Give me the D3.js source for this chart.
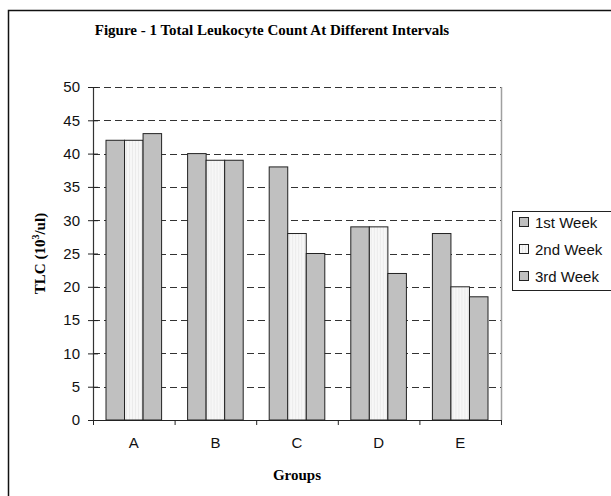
<!DOCTYPE html>
<html>
<head>
<meta charset="utf-8">
<script src="https://cdn.jsdelivr.net/npm/d3@7.9.0/dist/d3.min.js"></script>
<style>
  body { margin: 0; background: #fff; }
  svg { display: block; }
</style>
</head>
<body>
<script>
// ─── DATA ────────────────────────────────────────────
const groups = ['A', 'B', 'C', 'D', 'E'];
const seriesNames = ['1st Week', '2nd Week', '3rd Week'];
const week1 = [42, 40, 38, 29, 28];
const week2 = [42, 39, 28, 29, 20];
const week3 = [43, 39, 25, 22, 18.5];
const yTicks = [0, 5, 10, 15, 20, 25, 30, 35, 40, 45, 50];

const seriesValues = [week1, week2, week3];
const rows = groups.map((g, i) => ({
  group: g,
  values: seriesNames.map((s, j) => ({ key: s, value: seriesValues[j][i] }))
}));

// ─── SETUP ───────────────────────────────────────────
const W = 611, H = 496;
const plot = { left: 93, right: 501, top: 87, bottom: 420 };
const SANS = '"Liberation Sans", Arial, sans-serif';
const SERIF = '"Liberation Serif", "Times New Roman", serif';

const svg = d3.select('body').append('svg')
  .attr('width', W).attr('height', H);

// faint vertical stripes for the 2nd week bars
const defs = svg.append('defs');
const pat = defs.append('pattern')
  .attr('id', 'stripes')
  .attr('patternUnits', 'userSpaceOnUse')
  .attr('width', 3).attr('height', 4);
pat.append('rect').attr('width', 3).attr('height', 4).attr('fill', '#f7f7f7');
pat.append('rect').attr('width', 1).attr('height', 4).attr('fill', '#ebebeb');

const fills = ['#c0c0c0', 'url(#stripes)', '#c0c0c0'];

// outer frame (runs off the right and bottom edges)
svg.append('rect')
  .attr('x', 8.5).attr('y', 10.5)
  .attr('width', 700).attr('height', 600)
  .attr('fill', 'none')
  .attr('stroke', '#111')
  .attr('stroke-width', 1.5);

// title
svg.append('text')
  .attr('x', 272).attr('y', 35)
  .attr('text-anchor', 'middle')
  .style('font-family', SERIF)
  .style('font-weight', 'bold')
  .style('font-size', '15px')
  .text('Figure - 1 Total Leukocyte Count At Different Intervals');

// ─── SCALES ──────────────────────────────────────────
const x0 = d3.scaleBand()
  .domain(groups)
  .range([plot.left, plot.right])
  .paddingInner(0).paddingOuter(0);

const x1 = d3.scaleBand()
  .domain(seriesNames)
  .range([13, x0.bandwidth() - 13]);

const y = d3.scaleLinear()
  .domain([0, 50])
  .range([plot.bottom, plot.top]);

// ─── GRID ────────────────────────────────────────────
svg.append('g')
  .selectAll('line')
  .data(yTicks.filter(t => t > 0))
  .join('line')
    .attr('x1', plot.left).attr('x2', plot.right)
    .attr('y1', d => Math.round(y(d)) + 0.5)
    .attr('y2', d => Math.round(y(d)) + 0.5)
    .attr('stroke', '#333')
    .attr('stroke-dasharray', '7,4');

// right border of plot area
svg.append('line')
  .attr('x1', plot.right + 0.5).attr('x2', plot.right + 0.5)
  .attr('y1', plot.top).attr('y2', plot.bottom)
  .attr('stroke', '#a0a0a0')
  .attr('stroke-width', 1.5);

// ─── BARS ────────────────────────────────────────────
svg.append('g')
  .selectAll('g')
  .data(rows)
  .join('g')
    .attr('transform', d => `translate(${x0(d.group)},0)`)
  .selectAll('rect')
  .data(d => d.values)
  .join('rect')
    .attr('x', d => x1(d.key))
    .attr('y', d => y(d.value))
    .attr('width', x1.bandwidth())
    .attr('height', d => y(0) - y(d.value))
    .attr('fill', (d, i) => fills[i])
    .attr('stroke', '#222')
    .attr('stroke-width', 1);

// ─── AXES ────────────────────────────────────────────
const yAxis = svg.append('g')
  .attr('transform', `translate(${plot.left},0)`)
  .call(d3.axisLeft(y).tickValues(yTicks).tickSize(0).tickPadding(13));
yAxis.select('.domain').attr('stroke', '#333').attr('stroke-width', 1.2);
yAxis.selectAll('.tick text')
  .style('font-family', SANS)
  .style('font-size', '15px')
  .attr('fill', '#111');
yAxis.selectAll('.tick')
  .append('line')
    .attr('x1', -5).attr('x2', 5)
    .attr('stroke', '#222');

const xAxis = svg.append('g')
  .attr('transform', `translate(0,${plot.bottom})`)
  .call(d3.axisBottom(x0).tickSize(0).tickPadding(17));
xAxis.select('.domain').attr('stroke', '#222').attr('stroke-width', 1.2);
xAxis.selectAll('.tick text')
  .style('font-family', SANS)
  .style('font-size', '15px')
  .attr('fill', '#111');

// group boundary ticks
svg.append('g')
  .selectAll('line')
  .data(groups.map(g => x0(g)).concat([plot.right]))
  .join('line')
    .attr('x1', d => d + 0.5).attr('x2', d => d + 0.5)
    .attr('y1', plot.bottom).attr('y2', plot.bottom + 5)
    .attr('stroke', '#222');

// axis titles
svg.append('text')
  .attr('transform', `translate(45,${(plot.top + plot.bottom) / 2}) rotate(-90)`)
  .attr('text-anchor', 'middle')
  .style('font-family', SERIF)
  .style('font-weight', 'bold')
  .style('font-size', '15px')
  .call(t => {
    t.append('tspan').text('TLC (10');
    t.append('tspan').attr('dy', -6).style('font-size', '10px').text('3');
    t.append('tspan').attr('dy', 6).text('/ul)');
  });

svg.append('text')
  .attr('x', 297).attr('y', 480)
  .attr('text-anchor', 'middle')
  .style('font-family', SERIF)
  .style('font-weight', 'bold')
  .style('font-size', '15px')
  .text('Groups');

// ─── LEGEND ──────────────────────────────────────────
const legend = svg.append('g')
  .attr('transform', 'translate(512,211)');

legend.append('rect')
  .attr('x', 0.5).attr('y', 0.5)
  .attr('width', 120).attr('height', 79)
  .attr('fill', '#fff')
  .attr('stroke', '#222');

seriesNames.forEach((s, i) => {
  const row = legend.append('g').attr('transform', `translate(7,${11 + i * 27})`);
  row.append('rect')
    .attr('x', 0.5).attr('y', -4.5)
    .attr('width', 9).attr('height', 9)
    .attr('fill', fills[i])
    .attr('stroke', '#222');
  row.append('text')
    .attr('x', 16).attr('y', 5.5)
    .style('font-family', SANS)
    .style('font-size', '15px')
    .attr('fill', '#111')
    .text(s);
});
</script>
</body>
</html>
